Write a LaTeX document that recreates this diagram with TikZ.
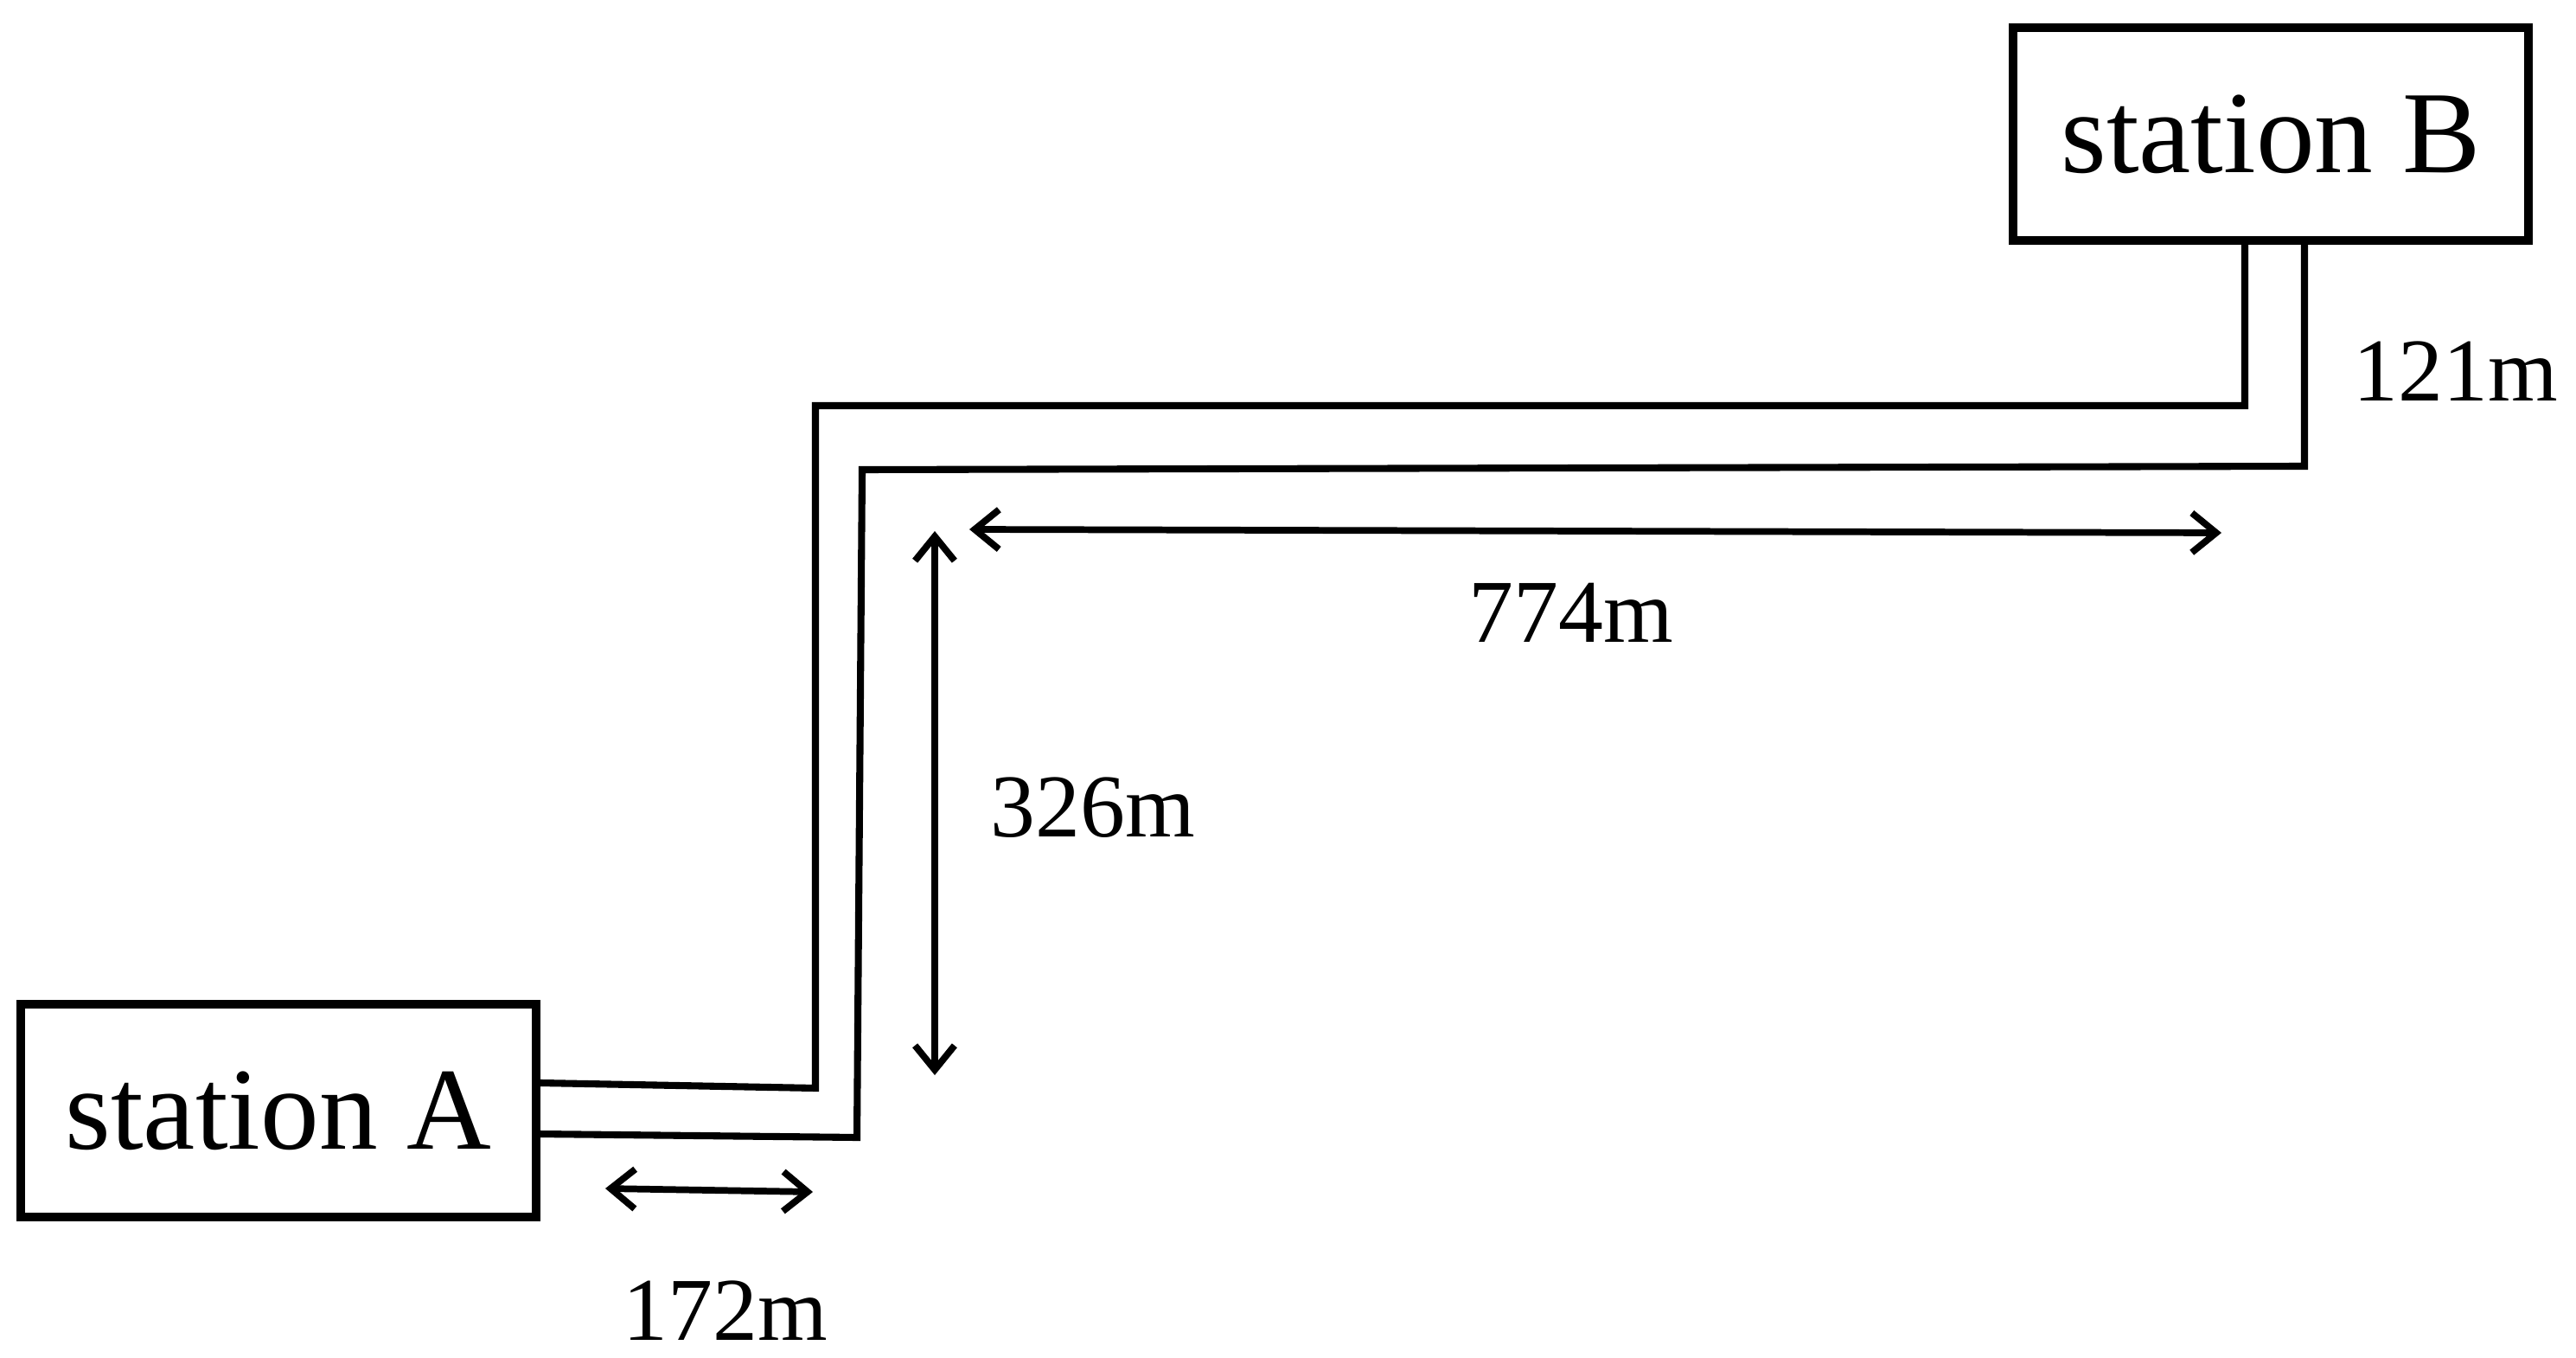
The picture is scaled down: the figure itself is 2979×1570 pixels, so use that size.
\documentclass[tikz,border=0pt]{standalone}
\usepackage{fontspec}
\setmainfont{Liberation Serif}
\usetikzlibrary{positioning,arrows.meta}

\begin{document}
\begin{tikzpicture}[
  x=0.01cm, y=-0.01cm,
  station/.style={draw,line width=2.8pt,minimum width=5.95cm,minimum height=2.46cm,
    inner sep=0pt,font=\fontsize{38.5}{40}\selectfont},
  pipe/.style={line width=2.3pt,line join=miter},
  dim/.style={line width=2.2pt,{Straight Barb[length=8pt,width=13pt,line width=2.2pt]}-{Straight Barb[length=8pt,width=13pt,line width=2.2pt]}},
  dimlabel/.style={font=\fontsize{29.5}{31}\selectfont,inner sep=0pt}
]
\useasboundingbox (0,0) rectangle (2979,1570);
\node[station] (A) at (322,1284) {station A};
\node[station] (B) at (2626,155) {station B};
% pipe
\draw[pipe] ([yshift=0.32cm]A.east) -- (943,1258) -- (943,469) -- (2596,469) -- (2596,0 |- B.south);
\draw[pipe] ([yshift=-0.27cm]A.east) -- (991,1315) -- (997,543) -- (2665,539) -- (2665,0 |- B.south);
% dimensions
\coordinate (d1a) at (700,1374);
\coordinate (d1b) at (940,1378);
\coordinate (d2a) at (1081,614);
\coordinate (d2b) at (1081,1243);
\coordinate (d3a) at (1121,612);
\coordinate (d3b) at (2569,616);
\draw[dim] (d1a) -- (d1b);
\draw[dim] (d2a) -- (d2b);
\draw[dim] (d3a) -- (d3b);
\node[dimlabel] (l172) at (839,1515) {172m};
\node[dimlabel] (l326) at (1264,934) {326m};
\node[dimlabel] (l774) at (1817,708) {774m};
\node[dimlabel] (l121) at (2840,429) {121m};
\end{tikzpicture}
\end{document}
